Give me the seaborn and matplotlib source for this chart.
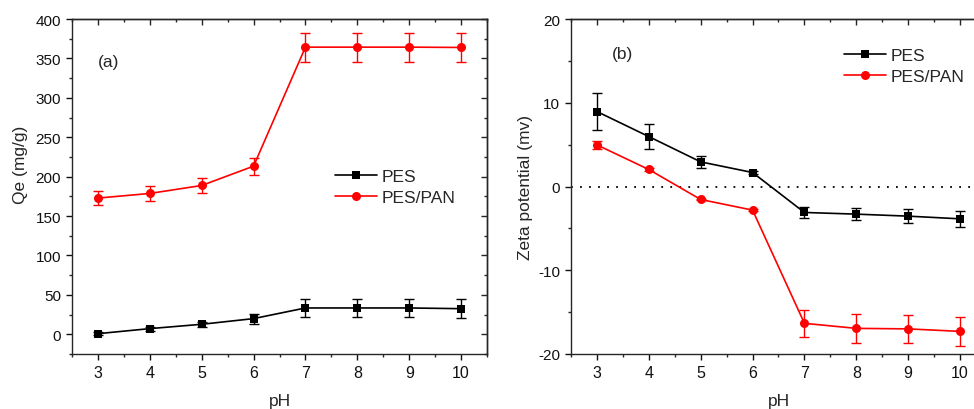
import matplotlib
matplotlib.use("Agg")
import matplotlib.pyplot as plt
import seaborn as sns
from matplotlib.ticker import MultipleLocator

# pH values shared by both panels
ph = [3, 4, 5, 6, 7, 8, 9, 10]
series = ["PES", "PES/PAN"]

# (a) adsorption capacity Qe (mg/g)
qe_pes = [0.8, 7.2, 12.7, 19.9, 33.4, 33.4, 33.4, 32.5]
qe_pes_err = [1.5, 2.5, 3.0, 6.3, 11.7, 11.7, 11.7, 11.7]
qe_pan = [172.8, 178.7, 188.8, 213.3, 364.3, 364.3, 364.3, 363.9]
qe_pan_err = [8.7, 9.2, 9.5, 10.6, 18.4, 18.4, 18.4, 18.2]

# (b) zeta potential (mV)
zeta_pes = [8.95, 5.96, 2.94, 1.67, -3.10, -3.30, -3.54, -3.86]
zeta_pes_err = [2.25, 1.5, 0.75, 0.2, 0.7, 0.75, 0.87, 0.97]
zeta_pan = [4.97, 2.03, -1.55, -2.82, -16.34, -16.94, -17.0, -17.3]
zeta_pan_err = [0.45, 0.15, 0.1, 0.1, 1.63, 1.7, 1.68, 1.73]

sns.set_style("ticks")
plt.rcParams["font.family"] = ["Liberation Sans", "DejaVu Sans"]
plt.rcParams["axes.linewidth"] = 1.0
plt.rcParams["axes.unicode_minus"] = False

fig = plt.figure(figsize=(9.74, 4.10), dpi=100)
ax_a = fig.add_axes([72 / 974, 55 / 410, 415 / 974, 335 / 410])
ax_b = fig.add_axes([571 / 974, 55 / 410, 415 / 974, 335 / 410])

styles = {
    "PES": dict(color="black", marker="s", markersize=5.5),
    "PES/PAN": dict(color="red", marker="o", markersize=6.5),
}
label_size = 12.5


def draw_panel(ax, values, errors):
    for name, y, err in zip(series, values, errors):
        st = styles[name]
        ax.errorbar(ph, y, yerr=err, fmt="none", ecolor=st["color"],
                    elinewidth=1.0, capsize=3.5, capthick=1.0, zorder=2)
        sns.lineplot(x=ph, y=y, ax=ax, color=st["color"], marker=st["marker"],
                     markersize=st["markersize"], markeredgewidth=0,
                     linewidth=1.2, label=name, zorder=3)
    ax.set_xlim(2.5, 10.5)
    ax.xaxis.set_major_locator(MultipleLocator(1))
    ax.xaxis.set_minor_locator(MultipleLocator(0.5))
    ax.tick_params(which="major", direction="out", length=4.5, width=1.0,
                   colors="#111111")
    ax.tick_params(axis="x", labelsize=11.5)
    ax.tick_params(axis="y", labelsize=11)
    ax.tick_params(which="minor", direction="out", length=2.5, width=1.0)
    ax.set_xlabel("pH", fontsize=label_size, labelpad=9)
    for sp in ax.spines.values():
        sp.set_visible(True)
        sp.set_linewidth(1.0)
    # mirrored inward ticks on the top edge
    top = ax.secondary_xaxis("top")
    top.xaxis.set_major_locator(MultipleLocator(1))
    top.xaxis.set_minor_locator(MultipleLocator(0.5))
    top.tick_params(which="major", direction="in", length=4.5, width=1.0,
                    labeltop=False)
    top.tick_params(which="minor", direction="in", length=2.5, width=1.0)
    ax.legend(frameon=False, loc="center left", borderpad=0, borderaxespad=0,
              handlelength=2.4, handletextpad=0.3, labelspacing=0.3,
              fontsize=label_size)


draw_panel(ax_a, [qe_pes, qe_pan], [qe_pes_err, qe_pan_err])
ax_a.set_ylim(-25, 400)
ax_a.yaxis.set_major_locator(MultipleLocator(50))
ax_a.yaxis.set_minor_locator(MultipleLocator(25))
ax_a.set_ylabel("Qe (mg/g)", fontsize=label_size)
ax_a.yaxis.set_label_coords(-0.106, 0.567)
right_a = ax_a.secondary_yaxis("right")
right_a.yaxis.set_major_locator(MultipleLocator(50))
right_a.yaxis.set_minor_locator(MultipleLocator(25))
right_a.tick_params(which="major", direction="in", length=4.5, width=1.0,
                    labelright=False)
right_a.tick_params(which="minor", direction="in", length=2.5, width=1.0)
ax_a.text(3.0, 346, "(a)", fontsize=label_size, ha="left", va="center")
ax_a.get_legend().set_bbox_to_anchor((0.634, 0.4985), transform=ax_a.transAxes)

draw_panel(ax_b, [zeta_pes, zeta_pan], [zeta_pes_err, zeta_pan_err])
ax_b.axhline(0, color="black", linewidth=1.3, linestyle=(0, (1, 4)), zorder=1)
ax_b.set_ylim(-20, 20)
ax_b.yaxis.set_major_locator(MultipleLocator(10))
ax_b.yaxis.set_minor_locator(MultipleLocator(5))
ax_b.set_ylabel("Zeta potential (mv)", fontsize=label_size)
ax_b.yaxis.set_label_coords(-0.092, 0.5)
ax_b.text(3.29, 15.9, "(b)", fontsize=label_size, ha="left", va="center")
ax_b.get_legend().set_bbox_to_anchor((0.658, 0.86), transform=ax_b.transAxes)

fig.savefig("out.png", dpi=100)
